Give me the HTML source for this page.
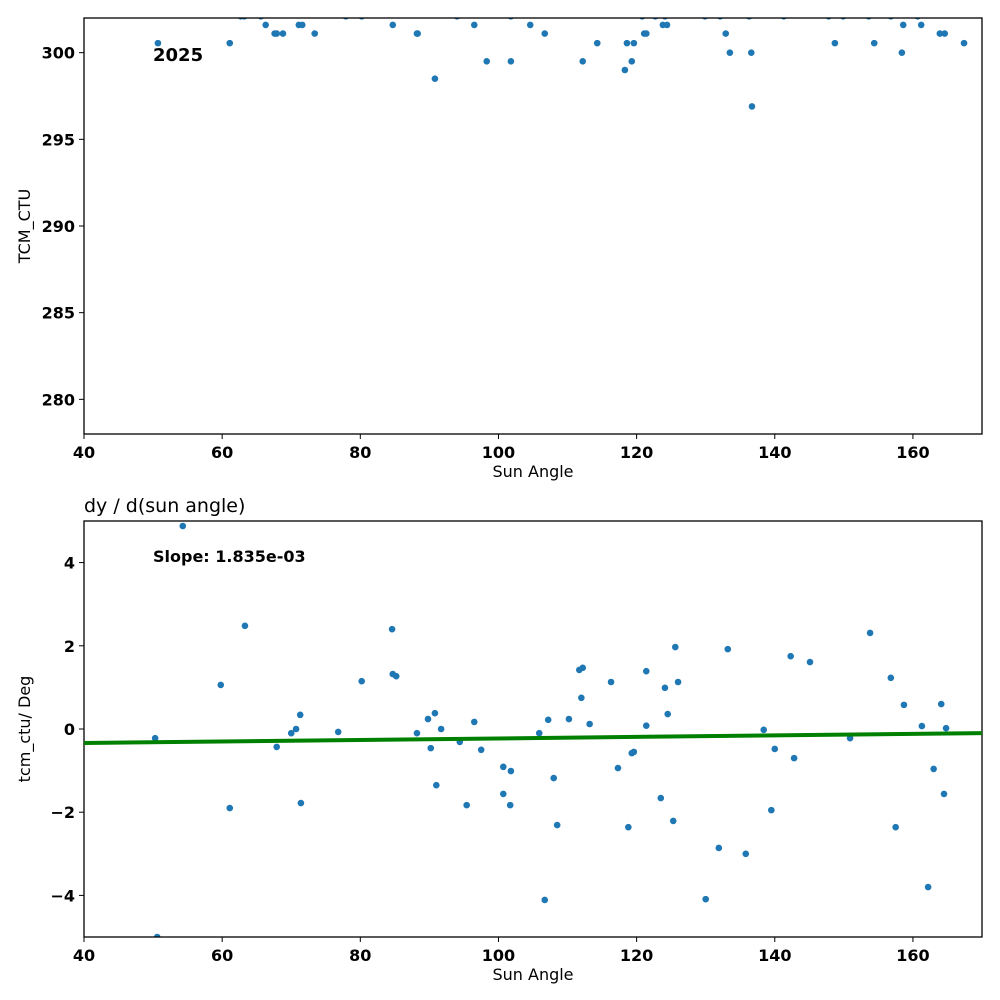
<!DOCTYPE html>
<html><head><meta charset="utf-8"><style>
body{margin:0;background:#fff}
svg{display:block;font-family:"DejaVu Sans","Liberation Sans",sans-serif}
</style></head><body>
<svg id="c" width="1000" height="1000" viewBox="0 0 1000 1000"></svg>
<script>
const topX=[50.7,61.1,66.3,67.6,67.9,68.8,71.1,71.6,73.4,84.7,88.2,88.3,90.8,96.5,98.3,101.8,104.6,106.7,112.2,114.3,118.3,118.6,119.3,119.6,121.1,121.4,123.8,124.4,132.9,133.5,136.6,136.7,148.7,154.4,158.4,158.6,161.2,163.9,164.6,167.4,
62.7,63.2,65.6,77.9,80.2,94.0,101.8,120.8,122.7,124.1,129.9,132.1,136.3,141.3,147.8,149.9,153.6,156.8,160.7];
const topY=[300.55,300.55,301.6,301.1,301.1,301.1,301.6,301.6,301.1,301.6,301.1,301.1,298.5,301.6,299.5,299.5,301.6,301.1,299.5,300.55,299.0,300.55,299.5,300.55,301.1,301.1,301.6,301.6,301.1,300.0,300.0,296.9,300.55,300.55,300.0,301.6,301.6,301.1,301.1,300.55,
302.1,302.1,302.1,302.1,302.1,302.1,302.1,302.1,302.1,302.1,302.1,302.1,302.1,302.1,302.1,302.1,302.1,302.1,302.1];
const botX=[50.3,54.3,59.8,61.1,63.3,67.9,70.0,70.7,71.3,71.4,76.8,80.2,84.6,84.7,85.2,88.2,89.8,90.2,90.8,91.0,91.7,94.4,95.4,96.5,97.5,100.7,100.7,101.7,101.8,105.9,106.7,107.2,108.0,108.5,110.2,111.7,112.0,112.2,113.2,116.3,117.3,118.8,119.3,119.6,121.4,121.4,123.5,124.1,124.5,125.3,125.6,126.0,130.0,131.9,133.2,135.8,138.4,139.5,140.0,142.3,142.8,145.1,150.9,153.8,156.8,157.5,158.7,161.3,162.2,163.0,164.1,164.5,164.8,50.6];
const botY=[-0.22,4.88,1.06,-1.90,2.48,-0.43,-0.10,0,0.34,-1.78,-0.07,1.15,2.40,1.32,1.27,-0.10,0.24,-0.46,0.38,-1.35,0,-0.31,-1.83,0.17,-0.50,-0.91,-1.56,-1.83,-1.01,-0.10,-4.11,0.22,-1.18,-2.31,0.24,1.42,0.75,1.47,0.12,1.13,-0.94,-2.36,-0.58,-0.55,0.08,1.39,-1.66,0.99,0.36,-2.21,1.97,1.13,-4.09,-2.86,1.92,-3.00,-0.02,-1.95,-0.48,1.75,-0.70,1.61,-0.22,2.31,1.23,-2.36,0.58,0.07,-3.80,-0.96,0.60,-1.56,0.02,-5.0];
const fitSlope=[0.001835];
const fitIntercept=[-0.337];
const xTicks=[40,60,80,100,120,140,160];
const topYTicks=[280,285,290,295,300];
const botYTicks=[-4,-2,0,2,4];

const svg=document.getElementById('c');
const NS='http://www.w3.org/2000/svg';
function mk(t,a,p){const e=document.createElementNS(NS,t);for(const k in a)e.setAttribute(k,a[k]);(p||svg).appendChild(e);return e;}
const L=84,R=982;
const sx=v=>L+(v-40)/130*(R-L);
function panel(name,T,B,y0,y1,xs,ys,yt,ylabel,fmt){
  const g=mk('g',{});
  
  
  const sy=v=>B-(v-y0)/(y1-y0)*(B-T);
  const cid='clip-'+name;
  const cp=mk('clipPath',{id:cid},g);mk('rect',{x:L,y:T,width:R-L,height:B-T},cp);
  const pts=mk('g',{'clip-path':'url(#'+cid+')'},g);
  
  
  for(let i=0;i<xs.length;i++){
    const c=mk('circle',{cx:sx(xs[i]),cy:sy(ys[i]),r:3.3,fill:'#1f77b4'},pts);
    
    
  }
  const fr=mk('rect',{x:L,y:T,width:R-L,height:B-T,fill:'none',stroke:'#000','stroke-width':1.3},g);
  
  
  xTicks.forEach(v=>{
    mk('line',{x1:sx(v),x2:sx(v),y1:B,y2:B+5,stroke:'#000','stroke-width':1},g);
    const t=mk('text',{x:sx(v),y:B+24,'text-anchor':'middle','font-size':16,'font-weight':'bold'},g);
    t.textContent=v;
    
    
  });
  yt.forEach(v=>{
    mk('line',{x1:L-5,x2:L,y1:sy(v),y2:sy(v),stroke:'#000','stroke-width':1},g);
    const t=mk('text',{x:L-9,y:sy(v)+6,'text-anchor':'end','font-size':16,'font-weight':'bold'},g);
    t.textContent=fmt(v);
    
    
  });
  const xl=mk('text',{x:(L+R)/2,y:B+43,'text-anchor':'middle','font-size':16},g);
  xl.textContent='Sun Angle';
  
  
  const yl=mk('text',{x:0,y:0,'text-anchor':'middle','font-size':16,transform:'translate(30,'+((T+B)/2)+') rotate(-90)'},g);
  yl.textContent=ylabel;
  
  
  return {g,sy,pts};
}
const p1=panel('top-panel',18,434,278,302,topX,topY,topYTicks,'TCM_CTU',v=>v);
const yr=mk('text',{x:153,y:61,'font-size':18,'font-weight':'bold'},p1.g);
yr.textContent='2025';



const p2=panel('bottom-panel',521,937,-5,5,botX,botY,botYTicks,'tcm_ctu/ Deg',v=>v<0?'\u2212'+(-v):v);
const fy=x=>fitIntercept[0]+fitSlope[0]*(x-40);
const fl=mk('line',{x1:sx(40),y1:p2.sy(fy(40)),x2:sx(170),y2:p2.sy(fy(170)),stroke:'#008000','stroke-width':4},p2.g);


const st=mk('text',{x:153,y:562,'font-size':16,'font-weight':'bold'},p2.g);
st.textContent='Slope: 1.835e-03';


const ti=mk('text',{x:84,y:512,'font-size':19},p2.g);
ti.textContent='dy / d(sun angle)';


</script>
</body></html>
